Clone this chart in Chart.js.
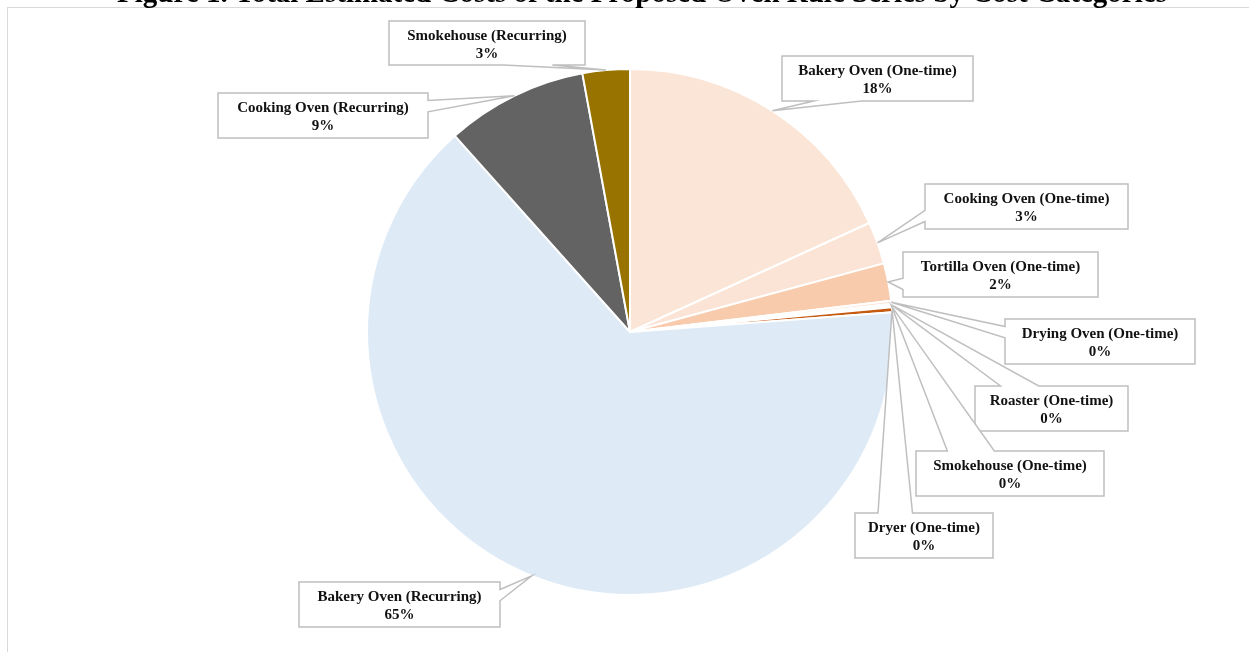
<!DOCTYPE html>
<html>
<head>
<meta charset="utf-8">
<script src="https://cdn.jsdelivr.net/npm/chart.js@4.4.1/dist/chart.umd.min.js"></script>
<style>
  html, body { margin: 0; padding: 0; background: #fff; overflow: hidden; }
  #wrap { position: relative; width: 1249px; height: 652px; }
  #frame { position: absolute; left: 7px; top: 7px; width: 1300px; height: 700px; border: 1px solid #d9d9d9; box-sizing: border-box; }
  #costPie { position: absolute; left: 0; top: 0; }
</style>
</head>
<body>
<div id="wrap">
  <div id="frame"></div>
  <canvas id="costPie" width="1249" height="652"></canvas>
</div>
<script>
// cost categories, clockwise from 12 o'clock
const categories = [
  'Bakery Oven (One-time)',
  'Cooking Oven (One-time)',
  'Tortilla Oven (One-time)',
  'Drying Oven (One-time)',
  'Roaster (One-time)',
  'Smokehouse (One-time)',
  'Dryer (One-time)',
  'Bakery Oven (Recurring)',
  'Cooking Oven (Recurring)',
  'Smokehouse (Recurring)'
];

// share of total estimated cost (%)
const costShares = [18.2, 2.6, 2.3, 0.2, 0.1, 0.1, 0.3, 64.6, 8.7, 2.9];

const sliceColors = [
  '#FBE5D6', '#FBE4D5', '#F8CBAD', '#FCE4D6', '#F4B183',
  '#ED7D31', '#C55A11', '#DEEBF7', '#636363', '#997300'
];

const figureTitle = 'Figure 1. Total Estimated Costs of the Proposed Oven Rule Series by Cost Categories';

// callout boxes: left, top, width, height (+ optional wedge side)
const calloutBoxes = [
  { x: 782, y: 56, w: 191, h: 45 },
  { x: 925, y: 184, w: 203, h: 45, side: 'left' },
  { x: 903, y: 252, w: 195, h: 45 },
  { x: 1005, y: 319, w: 190, h: 45 },
  { x: 975, y: 386, w: 153, h: 45 },
  { x: 916, y: 451, w: 188, h: 45 },
  { x: 855, y: 513, w: 138, h: 45 },
  { x: 299, y: 582, w: 201, h: 45 },
  { x: 218, y: 93, w: 210, h: 45 },
  { x: 389, y: 21, w: 196, h: 44 }
];

// rectangle with a wedge pointing at (tx, ty), like an Excel callout
function calloutPath(ctx, b, tx, ty) {
  const { x, y, w, h } = b;
  const dx = tx - (x + w / 2), dy = ty - (y + h / 2);
  let side = b.side;
  if (!side) {
    if (Math.abs(dx) * h > Math.abs(dy) * w) side = dx < 0 ? 'left' : 'right';
    else side = dy < 0 ? 'top' : 'bottom';
  }
  const vy1 = dy < 0 ? y + h / 6 : y + 7 * h / 12;
  const vy2 = dy < 0 ? y + 5 * h / 12 : y + 5 * h / 6;
  const hx1 = dx < 0 ? x + w / 6 : x + 7 * w / 12;
  const hx2 = dx < 0 ? x + 5 * w / 12 : x + 5 * w / 6;
  ctx.beginPath();
  ctx.moveTo(x, y);
  if (side === 'top') { ctx.lineTo(hx1, y); ctx.lineTo(tx, ty); ctx.lineTo(hx2, y); }
  ctx.lineTo(x + w, y);
  if (side === 'right') { ctx.lineTo(x + w, vy1); ctx.lineTo(tx, ty); ctx.lineTo(x + w, vy2); }
  ctx.lineTo(x + w, y + h);
  if (side === 'bottom') { ctx.lineTo(hx2, y + h); ctx.lineTo(tx, ty); ctx.lineTo(hx1, y + h); }
  ctx.lineTo(x, y + h);
  if (side === 'left') { ctx.lineTo(x, vy2); ctx.lineTo(tx, ty); ctx.lineTo(x, vy1); }
  ctx.closePath();
}

const calloutLabels = {
  id: 'calloutLabels',
  afterDatasetsDraw(chart) {
    const ctx = chart.ctx;
    const meta = chart.getDatasetMeta(0);
    const values = chart.data.datasets[0].data;
    const total = values.reduce((a, v) => a + v, 0);
    ctx.save();
    ctx.font = 'bold 15px "Liberation Serif", "Times New Roman", serif';
    ctx.textAlign = 'center';
    ctx.textBaseline = 'middle';
    meta.data.forEach((arc, i) => {
      const p = arc.getProps(['x', 'y', 'startAngle', 'endAngle', 'outerRadius'], true);
      const mid = (p.startAngle + p.endAngle) / 2;
      const tx = p.x + Math.cos(mid) * p.outerRadius;
      const ty = p.y + Math.sin(mid) * p.outerRadius;
      const b = calloutBoxes[i];
      calloutPath(ctx, b, tx, ty);
      ctx.fillStyle = '#ffffff';
      ctx.fill();
      ctx.lineWidth = 1.5;
      ctx.strokeStyle = '#BFBFBF';
      ctx.stroke();
      ctx.fillStyle = '#111111';
      const cx = b.x + b.w / 2;
      ctx.fillText(chart.data.labels[i], cx, b.y + 15.5);
      ctx.fillText(Math.round(values[i] / total * 100) + '%', cx, b.y + 33);
    });
    // figure caption, cropped at the top edge of the page
    ctx.font = 'bold 29px "Liberation Serif", "Times New Roman", serif';
    ctx.textBaseline = 'alphabetic';
    ctx.fillStyle = '#000000';
    ctx.fillText(figureTitle, 642, 2);
    ctx.restore();
  }
};

new Chart(document.getElementById('costPie').getContext('2d'), {
  type: 'pie',
  data: {
    labels: categories,
    datasets: [{
      data: costShares,
      backgroundColor: sliceColors,
      borderColor: '#ffffff',
      borderWidth: 2,
      hoverOffset: 0
    }]
  },
  options: {
    responsive: false,
    animation: false,
    events: [],
    layout: { padding: { top: 68, bottom: 56, left: 100, right: 89 } },
    plugins: {
      legend: { display: false },
      tooltip: { enabled: false },
      title: { display: false }
    }
  },
  plugins: [calloutLabels]
});
</script>
</body>
</html>
